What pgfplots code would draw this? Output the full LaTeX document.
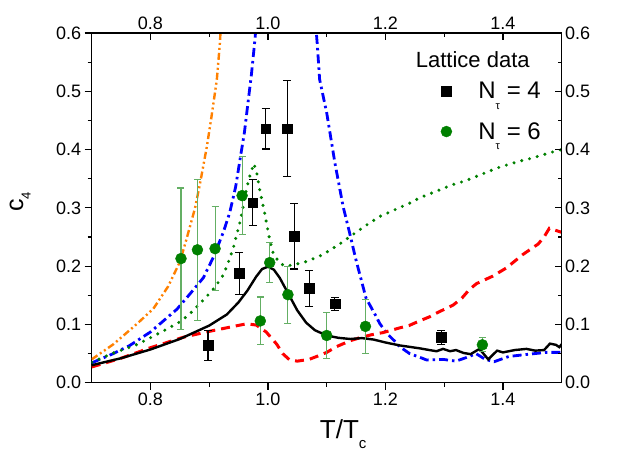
\documentclass[border=0pt]{standalone}
\usepackage{fontspec}
\setmainfont{Liberation Sans}
\usepackage{pgfplots}
\pgfplotsset{compat=1.18}
\definecolor{cblue}{RGB}{0,0,255}
\definecolor{cred}{RGB}{255,0,0}
\definecolor{corange}{RGB}{255,128,0}
\definecolor{cgreen}{RGB}{0,128,0}
\definecolor{cgreenerr}{RGB}{100,175,100}
\pgfplotsset{
  common/.style={
    scale only axis, width=470pt, height=349.7pt,
    xmin=0.7, xmax=1.5, ymin=0, ymax=0.6,
    xtick={0.8,1.0,1.2,1.4}, minor xtick={0.9,1.1,1.3},
    ytick={0,0.1,0.2,0.3,0.4,0.5,0.6},
    minor ytick={0.05,0.15,0.25,0.35,0.45,0.55},
    major tick length=7pt, minor tick length=4pt,
    every tick/.style={black, line width=1.2pt},
    axis line style={black, line width=1.3pt, -},
    tick label style={font=\fontsize{18}{20}\selectfont},
    /pgf/number format/assume math mode=true,
    scaled ticks=false,
    xticklabel style={/pgf/number format/.cd, fixed, fixed zerofill, precision=1},
    yticklabel style={/pgf/number format/.cd, fixed, fixed zerofill, precision=1},
  }
}
\begin{document}
\begin{tikzpicture}
\useasboundingbox (-91.7pt,-69.3pt) rectangle (527.3pt,382.7pt);
\begin{axis}[common,
  axis x line*=bottom, axis y line*=left, tick align=outside,
  xlabel={T/T\raisebox{-0.35em}{\fontsize{15}{15}\selectfont c}},
  xlabel style={font=\fontsize{26}{30}\selectfont, at={(axis description cs:0.535,-0.161)}, anchor=base},
  ylabel={c\raisebox{-0.3em}{\fontsize{13}{13}\selectfont 4}},
  ylabel style={font=\fontsize{25}{30}\selectfont, at={(axis description cs:-0.146,0.517)}, anchor=base, rotate=0},
  legend style={draw=none, fill=none, inner sep=0pt, at={(rel axis cs:0.733,0.865)}, anchor=north west,
    font=\fontsize{24}{28}\selectfont, row sep=18pt},
  legend image code/.code={\path[draw=none,fill=none] (0pt,-5pt) rectangle (40pt,5pt); \draw[#1] plot coordinates {(10pt,0pt)};},
  legend cell align=left,
]
% orange dash-dot-dot
\addplot[corange, line width=2.4pt, dash pattern=on 7pt off 3pt on 2pt off 3pt on 2pt off 3pt, forget plot] coordinates {
(0.700,0.040) (0.737,0.066) (0.776,0.100) (0.805,0.127) (0.830,0.165) (0.850,0.207) (0.861,0.245) (0.876,0.300) (0.885,0.345) (0.896,0.405) (0.904,0.457) (0.913,0.520) (0.918,0.580) (0.921,0.630)};
% blue dash-dot left branch
\addplot[cblue, line width=2.8pt, dash pattern=on 9pt off 4pt on 2.5pt off 4pt, forget plot] coordinates {
(0.700,0.034) (0.737,0.050) (0.765,0.064) (0.800,0.087) (0.822,0.106) (0.845,0.126) (0.867,0.152) (0.890,0.180) (0.907,0.215) (0.924,0.258) (0.935,0.292) (0.945,0.336) (0.952,0.380) (0.960,0.430) (0.966,0.480) (0.972,0.530) (0.978,0.590) (0.981,0.630)};
% blue dash-dot right branch
\addplot[cblue, line width=2.8pt, dash pattern=on 9pt off 4pt on 2.5pt off 4pt, forget plot] coordinates {
(1.080,0.630) (1.084,0.580) (1.088,0.520) (1.100,0.463) (1.114,0.377) (1.128,0.302) (1.139,0.257) (1.150,0.210) (1.167,0.145) (1.184,0.114) (1.190,0.102) (1.202,0.085) (1.219,0.068) (1.224,0.062) (1.241,0.050) (1.260,0.043) (1.270,0.039) (1.298,0.040) (1.320,0.037) (1.343,0.045) (1.354,0.050) (1.370,0.040) (1.385,0.036) (1.410,0.045) (1.445,0.049) (1.474,0.052) (1.500,0.052)};
% green dotted
\addplot[cgreen, line width=3.4pt, line cap=round, dash pattern=on 0pt off 8pt, forget plot] coordinates {
(0.700,0.035) (0.737,0.051) (0.774,0.064) (0.794,0.074) (0.828,0.092) (0.851,0.105) (0.867,0.118) (0.893,0.145) (0.910,0.164) (0.924,0.185) (0.932,0.205) (0.941,0.231) (0.946,0.251) (0.952,0.274) (0.957,0.298) (0.963,0.330) (0.969,0.354) (0.976,0.376) (0.981,0.360) (0.986,0.331) (0.995,0.288) (1.003,0.245) (1.009,0.222) (1.020,0.205) (1.030,0.200) (1.043,0.202) (1.066,0.208) (1.094,0.220) (1.125,0.240) (1.150,0.258) (1.170,0.272) (1.190,0.285) (1.210,0.294) (1.241,0.308) (1.258,0.317) (1.275,0.324) (1.295,0.332) (1.315,0.340) (1.335,0.346) (1.360,0.356) (1.389,0.368) (1.408,0.374) (1.428,0.380) (1.448,0.385) (1.468,0.391) (1.485,0.396) (1.500,0.400)};
% red dashed
\addplot[cred, line width=3pt, dash pattern=on 9pt off 6pt, forget plot] coordinates {
(0.700,0.027) (0.750,0.042) (0.800,0.060) (0.856,0.078) (0.895,0.087) (0.929,0.094) (0.963,0.101) (0.980,0.099) (0.997,0.087) (1.015,0.066) (1.025,0.050) (1.037,0.039) (1.050,0.037) (1.070,0.040) (1.083,0.045) (1.100,0.052) (1.117,0.062) (1.140,0.072) (1.156,0.077) (1.175,0.082) (1.196,0.086) (1.224,0.094) (1.240,0.098) (1.258,0.106) (1.275,0.113) (1.290,0.121) (1.315,0.133) (1.330,0.145) (1.343,0.160) (1.355,0.170) (1.370,0.177) (1.383,0.183) (1.406,0.197) (1.434,0.220) (1.460,0.238) (1.470,0.250) (1.479,0.265) (1.488,0.262) (1.500,0.258)};
% black solid
\addplot[black, line width=2.4pt, forget plot] coordinates {
(0.700,0.030) (0.750,0.042) (0.800,0.057) (0.850,0.075) (0.900,0.098) (0.930,0.117) (0.950,0.138) (0.965,0.158) (0.980,0.182) (0.990,0.195) (1.000,0.199) (1.010,0.194) (1.020,0.180) (1.035,0.152) (1.050,0.124) (1.065,0.103) (1.080,0.090) (1.100,0.081) (1.120,0.077) (1.140,0.075) (1.160,0.0765) (1.180,0.074) (1.200,0.069) (1.224,0.064) (1.258,0.059) (1.275,0.056) (1.287,0.054) (1.298,0.058) (1.310,0.054) (1.320,0.056) (1.333,0.051) (1.345,0.049) (1.360,0.058) (1.375,0.040) (1.390,0.055) (1.400,0.052) (1.420,0.056) (1.440,0.058) (1.455,0.055) (1.470,0.056) (1.480,0.067) (1.490,0.065) (1.496,0.061) (1.500,0.066)};
% lattice Nt=4
\addplot[black, only marks, mark=square*, mark size=4.8pt,
  error bars/.cd, y dir=both, y explicit,
  error bar style={black, line width=1.1pt},
  error mark options={rotate=90, mark size=4pt, line width=1.1pt, black}]
 table[x=x, y=y, y error=e] {
x y e
0.898 0.064 0.026
0.951 0.188 0.036
0.974 0.309 0.040
0.996 0.436 0.035
1.033 0.436 0.082
1.045 0.251 0.056
1.070 0.162 0.031
1.114 0.1355 0.011
1.295 0.0777 0.012
};
\addlegendentry{N\raisebox{-0.45em}{\fontsize{11}{11}\selectfont τ} = 4}
% lattice Nt=6
\addplot[cgreen, only marks, mark=*, mark size=5.5pt,
  error bars/.cd, y dir=both, y explicit,
  error bar style={cgreenerr, line width=1.1pt},
  error mark options={rotate=90, mark size=3.5pt, line width=1.1pt, cgreenerr}]
 table[x=x, y=y, y error=e] {
x y e
0.852 0.213 0.121
0.880 0.228 0.121
0.910 0.230 0.072
0.956 0.321 0.067
0.987 0.106 0.041
1.003 0.206 0.034
1.034 0.151 0.049
1.100 0.081 0.039
1.166 0.0966 0.046
1.365 0.065 0.012
};
\addlegendentry{N\raisebox{-0.45em}{\fontsize{11}{11}\selectfont τ} = 6}
\node[anchor=base west, font=\fontsize{22}{26}\selectfont, inner sep=0pt] at (axis cs:1.2515,0.540) {Lattice data};
\end{axis}
\begin{axis}[common,
  axis x line*=top, axis y line*=right, tick align=inside,
]
\addplot[draw=none] coordinates {(0.8,0.1)};
\end{axis}
\end{tikzpicture}
\end{document}
